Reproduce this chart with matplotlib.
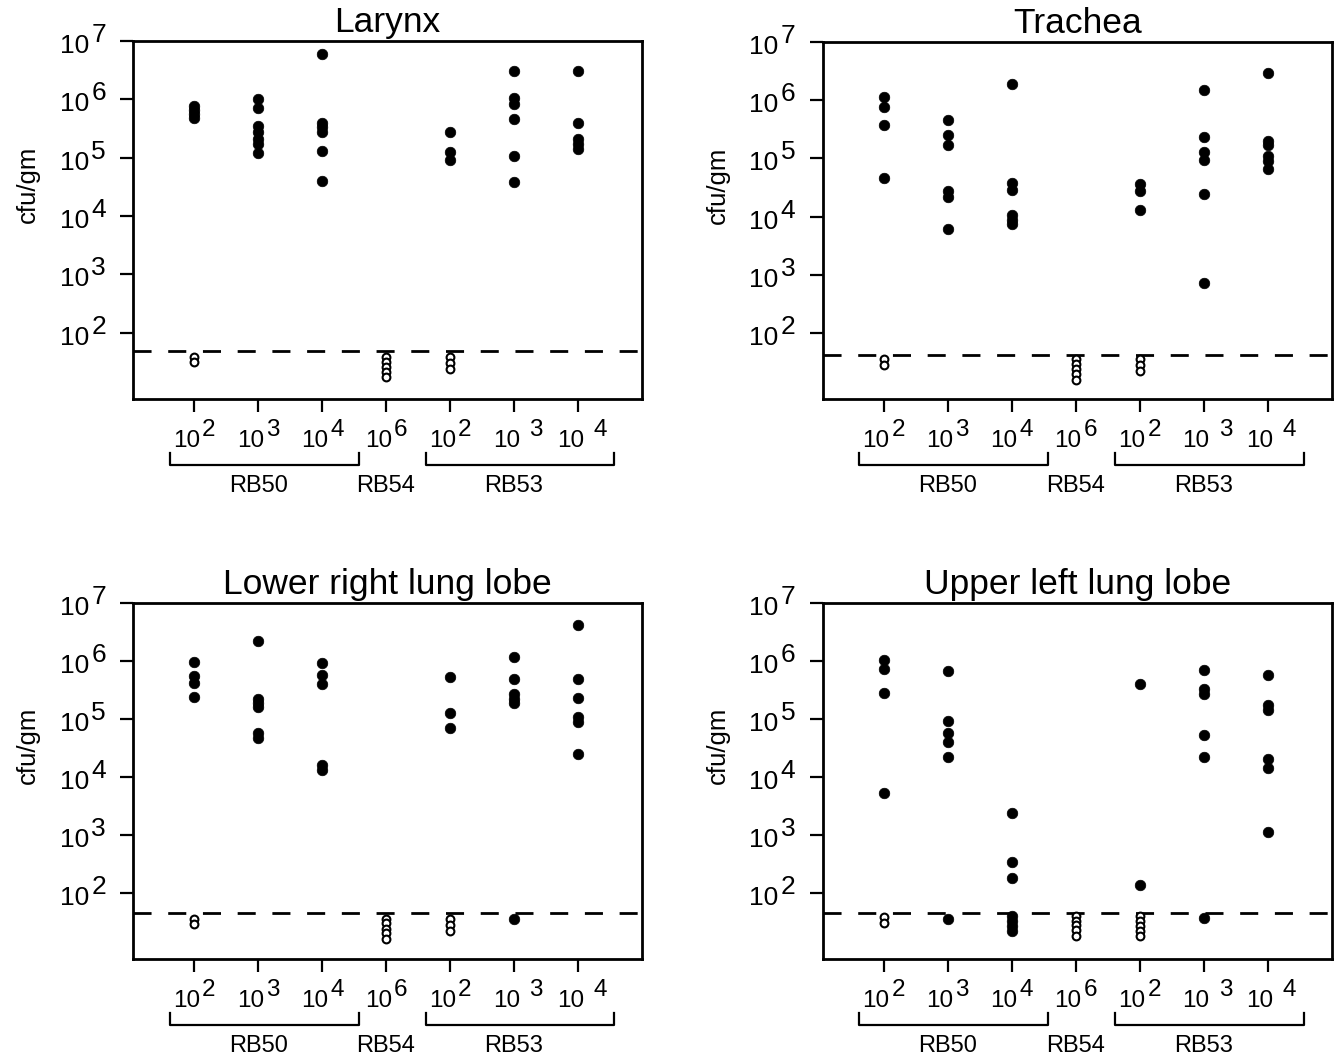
import numpy as np
import matplotlib
matplotlib.use("Agg")
import matplotlib.pyplot as plt
from matplotlib.transforms import offset_copy
from matplotlib.ticker import NullLocator

plt.rcParams['font.family'] = ['Liberation Sans', 'DejaVu Sans']

# ---------------- data ----------------
panel_titles = ["Larynx", "Trachea", "Lower right lung lobe", "Upper left lung lobe"]
dose_labels = ["10^2", "10^3", "10^4", "10^6", "10^2", "10 ^3", "10 ^4"]
strain_labels = ["RB50", "RB54", "RB53"]
strain_columns = [[1, 2, 3], [4], [5, 6, 7]]
ytick_exponents = [2, 3, 4, 5, 6, 7]
detection_limits = [48, 41, 45, 45]

larynx_filled = [
    [7.8e5, 6.6e5, 5.7e5, 4.8e5],
    [1.0e6, 7.0e5, 3.5e5, 2.8e5, 2.1e5, 1.7e5, 1.2e5],
    [5.9e6, 4.0e5, 3.3e5, 2.8e5, 1.3e5, 4.0e4],
    [],
    [2.7e5, 1.26e5, 9.1e4],
    [3.1e6, 1.04e6, 8.4e5, 4.6e5, 1.05e5, 3.8e4],
    [3.1e6, 3.9e5, 2.1e5, 1.7e5, 1.4e5],
]
larynx_open = [[38, 31], [], [], [38, 31, 26, 21, 17.5], [38, 30, 24], [], []]

trachea_filled = [
    [1.14e6, 7.7e5, 3.8e5, 4.6e4],
    [4.6e5, 2.5e5, 1.7e5, 2.7e4, 2.2e4, 6.2e3],
    [1.9e6, 3.8e4, 2.9e4, 1.05e4, 8.7e3, 7.4e3],
    [],
    [3.6e4, 2.7e4, 1.3e4],
    [1.5e6, 2.3e5, 1.26e5, 9.2e4, 2.4e4, 7.3e2],
    [2.9e6, 2.0e5, 1.7e5, 1.1e5, 8.9e4, 6.6e4],
]
trachea_open = [[35, 28], [], [], [35, 29, 23.5, 19.5, 15.5], [35, 28, 22], [], []]

lower_right_filled = [
    [9.5e5, 5.4e5, 4.2e5, 2.4e5],
    [2.2e6, 2.2e5, 1.85e5, 1.6e5, 5.6e4, 4.6e4],
    [9.1e5, 5.6e5, 4.0e5, 1.6e4, 1.3e4],
    [],
    [5.3e5, 1.25e5, 6.9e4],
    [1.15e6, 4.9e5, 2.7e5, 2.2e5, 1.9e5, 35],
    [4.2e6, 4.9e5, 2.3e5, 1.07e5, 8.8e4, 2.5e4],
]
lower_right_open = [[35.5, 28.5], [], [], [35.5, 29.5, 24, 20, 15.8], [35.5, 28, 22], [], []]

upper_left_filled = [
    [1.04e6, 7.3e5, 2.8e5, 5.2e3],
    [6.6e5, 9.0e4, 5.7e4, 3.9e4, 2.2e4, 35],
    [2.4e3, 3.4e2, 1.8e2, 40, 32, 27, 22],
    [],
    [4.0e5, 1.35e2],
    [6.9e5, 3.3e5, 2.7e5, 5.3e4, 2.2e4, 37],
    [5.6e5, 1.75e5, 1.4e5, 2.0e4, 1.4e4, 1.1e3],
]
upper_left_open = [[38, 30], [], [], [40, 32, 27.5, 22.5, 18], [40, 32, 27, 22, 18], [], []]

panels_filled = [larynx_filled, trachea_filled, lower_right_filled, upper_left_filled]
panels_open = [larynx_open, trachea_open, lower_right_open, upper_left_open]

# ---------------- layout ----------------
W, H = 1336, 1064
panel_px = [(133.3, 41.0, 642.0, 399.3),
            (822.7, 42.0, 1331.7, 399.3),
            (133.3, 602.7, 642.0, 959.0),
            (822.7, 602.7, 1331.7, 959.0)]

fig = plt.figure(figsize=(W / 100, H / 100), dpi=100)

for p in range(4):
    l, t, r, b = panel_px[p]
    wpx, hpx = r - l, b - t
    ax = fig.add_axes([l / W, 1 - b / H, wpx / W, hpx / H])
    ax.set_yscale('log')
    ax.set_ylim(7.2, 1e7)
    ax.set_xlim(0.05, 8.0)
    ax.set_xticks(range(1, len(dose_labels) + 1))
    ax.set_xticklabels([])
    ax.set_yticks([10.0 ** e for e in ytick_exponents])
    ax.set_yticklabels([])
    ax.yaxis.set_minor_locator(NullLocator())
    ax.xaxis.set_minor_locator(NullLocator())
    ax.tick_params(direction='out', length=9.5, width=1.6, colors='k')
    for s in ax.spines.values():
        s.set_linewidth(2.0)
        s.set_color('k')

    # detection limit
    ax.axhline(detection_limits[p], color='k', lw=2.0, ls=(0, (6.5, 6)), zorder=2)

    for i, vals in enumerate(panels_filled[p]):
        if vals:
            ax.plot([i + 1] * len(vals), vals, 'o', ms=7.6, mfc='k', mec='k',
                    mew=0.5, ls='none', zorder=3, clip_on=False)
    for i, vals in enumerate(panels_open[p]):
        if vals:
            ax.plot([i + 1] * len(vals), vals, 'o', ms=5.6, mfc='white', mec='k',
                    mew=1.5, ls='none', zorder=4, clip_on=False)

    # y tick labels: "10" with full-size raised exponent
    tb = offset_copy(ax.get_yaxis_transform(), fig=fig, x=-44, y=-12, units='dots')
    te = offset_copy(ax.get_yaxis_transform(), fig=fig, x=-42, y=-1, units='dots')
    for e in ytick_exponents:
        ax.text(0, 10.0 ** e, "10", transform=tb, ha='right', va='baseline', fontsize=19)
        ax.text(0, 10.0 ** e, str(e), transform=te, ha='left', va='baseline', fontsize=19)

    # x tick labels
    xb = offset_copy(ax.get_xaxis_transform(), fig=fig, x=6, y=-48, units='dots')
    for i, lab in enumerate(dose_labels):
        base, ex = lab.split('^')
        gap = 8 + 7 * (len(base) - len(base.strip()))
        xe = offset_copy(ax.get_xaxis_transform(), fig=fig, x=gap, y=-37, units='dots')
        ax.text(i + 1, 0, base.strip(), transform=xb, ha='right', va='baseline', fontsize=17.5)
        ax.text(i + 1, 0, ex, transform=xe, ha='left', va='baseline', fontsize=17.5)

    # strain brackets and labels
    yh, yv, yl = -66 / hpx, -54 / hpx, -93 / hpx
    for lab, cols in zip(strain_labels, strain_columns):
        if len(cols) > 1:
            x0, x1 = cols[0] - 0.38, cols[-1] + 0.57
            ax.plot([x0, x0, x1, x1], [yv, yh, yh, yv], color='k', lw=1.6,
                    transform=ax.get_xaxis_transform(), clip_on=False)
        ax.text(np.mean(cols), yl, lab, transform=ax.get_xaxis_transform(),
                ha='center', va='baseline', fontsize=17)

    ax.text(-105 / wpx, 0.6, "cfu/gm", transform=ax.transAxes, rotation=90,
            ha='center', va='center', fontsize=18.5)
    ax.set_title(panel_titles[p], fontsize=25.5, pad=6.5)

fig.savefig("out.png", dpi=100)
